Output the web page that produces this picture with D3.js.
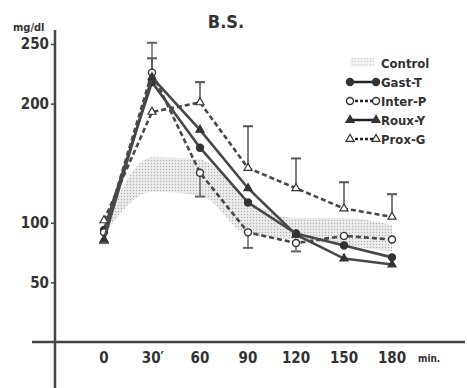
<!DOCTYPE html>
<head>
<meta charset="utf-8">
<script src="https://d3js.org/d3.v7.min.js"></script>
<style>
body { margin: 0; background: #fff; }
text { font-family: "DejaVu Sans Condensed", "DejaVu Sans", sans-serif; font-weight: bold; fill: #333; }
</style>
</head>
<body>
<div id="my_dataviz"></div>
<script>

// time points (min) and tick labels
var minutes = [0, 30, 60, 90, 120, 150, 180];
var tickLabels = ["0", "30\u2032", "60", "90", "120", "150", "180"];
var yTicks = [50, 100, 200, 250];

// series values (mg/dl)
var gastT  = [94, 218, 163, 117, 91, 81, 71];
var interP = [92, 226, 142, 92, 83, 89, 86];
var rouxY  = [86, 222, 178, 129, 90, 70, 65];
var proxG  = [102, 193, 201, 146, 129, 112, 105];

// control band (upper / lower)
var controlUpper = [98, 155, 153, 119, 104, 104, 98];
var controlLower = [90, 126, 123, 90, 86, 81, 76];

// error bar ends (null = no bar visible)
var proxGUp   = [null, null, 218, 181, 154, 134, 124];
var interPUp  = [null, 251, null, null, null, null, null];
var interPDown = [83, null, 122, 79, 76, null, null];
var rouxYUp   = [null, 238, null, null, null, null, null];

var width = 467, height = 388;

var svg = d3.select("#my_dataviz")
  .append("svg")
    .attr("width", width)
    .attr("height", height);

// stipple for the control area
var pat = svg.append("defs").append("pattern")
    .attr("id", "stipple")
    .attr("width", 3).attr("height", 3)
    .attr("patternUnits", "userSpaceOnUse");
pat.append("rect").attr("width", 3).attr("height", 3).attr("fill", "#ececec");
pat.append("circle").attr("cx", 1.5).attr("cy", 1.5).attr("r", 0.7).attr("fill", "#b0b0b0");

var x = d3.scaleLinear().domain([0, 180]).range([104, 392]);
var y = d3.scaleLinear().domain([0, 250]).range([342, 44]);

// axes
svg.append("line")
  .attr("x1", 55).attr("x2", 55).attr("y1", 30).attr("y2", 388)
  .attr("stroke", "#444").attr("stroke-width", 2.5);
svg.append("line")
  .attr("x1", 32).attr("x2", 465).attr("y1", y(0)).attr("y2", y(0))
  .attr("stroke", "#444").attr("stroke-width", 2.5);

var yAxis = svg.append("g")
  .attr("transform", "translate(55,0)")
  .call(d3.axisLeft(y).tickValues(yTicks).tickSize(4).tickPadding(2));
yAxis.select(".domain").remove();
yAxis.selectAll("line").attr("stroke", "#444").attr("stroke-width", 1.5);
yAxis.selectAll("text")
  .attr("fill", "#444")
  .style("font-size", "15px")
  .style("font-family", "'DejaVu Sans Condensed', sans-serif")
  .style("font-weight", "bold");

svg.selectAll("xlab")
  .data(minutes)
  .enter()
  .append("text")
    .attr("x", function(d){ return x(d) + (d == 30 ? 1 : 0); })
    .attr("y", 363)
    .attr("text-anchor", "middle")
    .style("font-size", "15px")
    .text(function(d, i){ return tickLabels[i]; });

svg.append("text")
  .attr("x", 418).attr("y", 362)
  .style("font-size", "10px")
  .text("min.");

svg.append("text")
  .attr("x", 13).attr("y", 31)
  .style("font-size", "11px")
  .text("mg/dl");

svg.append("text")
  .attr("x", 226).attr("y", 28)
  .attr("text-anchor", "middle")
  .attr("fill", "#666")
  .style("font-size", "18px")
  .text("B.S.");

// control band
var band = minutes.map(function(m, i){ return [m, controlLower[i], controlUpper[i]]; });
svg.append("path")
  .datum(band)
  .attr("fill", "url(#stipple)")
  .attr("d", d3.area()
    .curve(d3.curveMonotoneX)
    .x(function(d){ return x(d[0]); })
    .y0(function(d){ return y(d[1]); })
    .y1(function(d){ return y(d[2]); }));

// error bars
function errorBars(ends, base, col) {
  minutes.forEach(function(m, i){
    if (ends[i] == null) return;
    svg.append("line")
      .attr("x1", x(m)).attr("x2", x(m))
      .attr("y1", y(base[i])).attr("y2", y(ends[i]))
      .attr("stroke", col).attr("stroke-width", 1.5);
    svg.append("line")
      .attr("x1", x(m) - 5).attr("x2", x(m) + 5)
      .attr("y1", y(ends[i])).attr("y2", y(ends[i]))
      .attr("stroke", col).attr("stroke-width", 2);
  });
}
errorBars(proxGUp, proxG, "#555");
errorBars(interPUp, interP, "#666");
errorBars(interPDown, interP, "#666");
errorBars(rouxYUp, rouxY, "#555");

var series = [
  {name: "Gast-T",  values: gastT,  dash: null,  marker: "circle",   fill: "#333"},
  {name: "Inter-P", values: interP, dash: "5,3", marker: "circle",   fill: "#fff"},
  {name: "Roux-Y",  values: rouxY,  dash: null,  marker: "triangle", fill: "#333"},
  {name: "Prox-G",  values: proxG,  dash: "5,3", marker: "triangle", fill: "#fff"}
];

var line = d3.line()
  .x(function(d){ return x(d[0]); })
  .y(function(d){ return y(d[1]); });

var tri = d3.symbol().type(d3.symbolTriangle).size(28);

function drawMarker(g, kind, fill, px, py) {
  if (kind == "circle") {
    g.append("circle")
      .attr("cx", px).attr("cy", py).attr("r", 3.5)
      .attr("fill", fill).attr("stroke", "#333").attr("stroke-width", 1.4);
  } else {
    g.append("path")
      .attr("d", tri())
      .attr("transform", "translate(" + px + "," + py + ")")
      .attr("fill", fill).attr("stroke", "#333").attr("stroke-width", 1.2);
  }
}

series.forEach(function(s){
  var pts = minutes.map(function(m, i){ return [m, s.values[i]]; });
  svg.append("path")
    .datum(pts)
    .attr("fill", "none")
    .attr("stroke", "#484848")
    .attr("stroke-width", 2.6)
    .attr("stroke-dasharray", s.dash)
    .attr("d", line);
  pts.forEach(function(p){
    drawMarker(svg, s.marker, s.fill, x(p[0]), y(p[1]));
  });
});

// legend
var lg = svg.append("g");
lg.append("rect")
  .attr("x", 350).attr("y", 58).attr("width", 24).attr("height", 9)
  .attr("fill", "url(#stipple)").attr("opacity", 0.6);
lg.append("text").attr("x", 381).attr("y", 68).style("font-size", "13px").text("Control");

series.forEach(function(s, i){
  var ly = 82 + i * 19;
  lg.append("line")
    .attr("x1", 350).attr("x2", 376).attr("y1", ly).attr("y2", ly)
    .attr("stroke", "#222").attr("stroke-width", 2.5)
    .attr("stroke-dasharray", s.dash ? "3,2" : null);
  drawMarker(lg, s.marker, s.fill, 350, ly);
  drawMarker(lg, s.marker, s.fill, 376, ly);
  lg.append("text").attr("x", 381).attr("y", ly + 5).style("font-size", "13px").text(s.name);
});

</script>
</body>
